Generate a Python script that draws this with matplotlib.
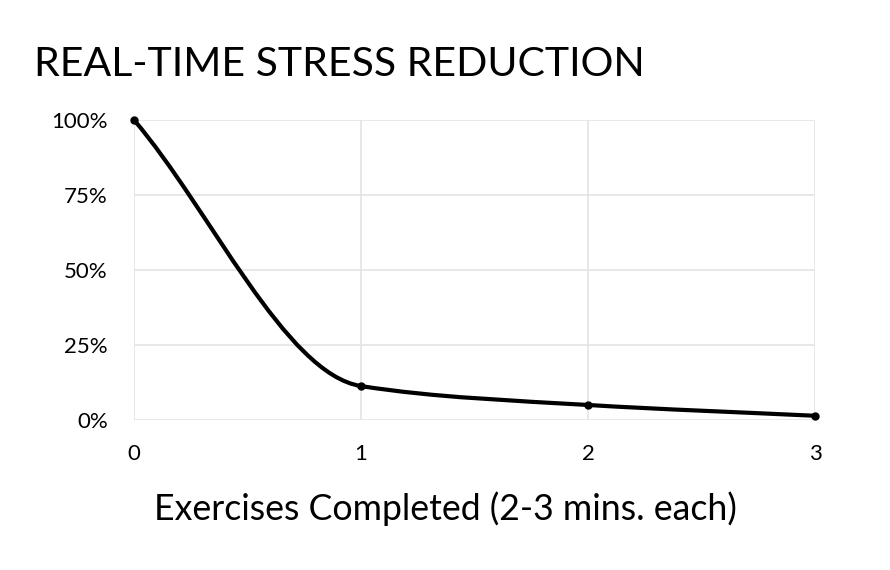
from matplotlib import pyplot as plt
from matplotlib.path import Path
from matplotlib.patches import PathPatch
from matplotlib.ticker import FuncFormatter
import numpy as np


exercises = [0, 1, 2, 3]
stress = [100, 11.3, 5, 1.4]
y_ticks = [0, 25, 50, 75, 100]

FONT = ["Lato", "DejaVu Sans"]


def smooth_path(xs, ys):
	# smoothed line like the spreadsheet one: hermite segments drawn as beziers,
	# chord tangents at the ends, harmonic-mean tangents inside (no overshoot)
	xs = np.asarray(xs, float)
	ys = np.asarray(ys, float)
	n = len(xs)
	h = np.diff(xs)
	d = np.diff(ys) / h
	m = np.zeros(n)
	m[0] = d[0]
	m[-1] = d[-1]
	for i in range(1, n - 1):
		if d[i - 1] * d[i] > 0:
			m[i] = 2 / (1 / d[i - 1] + 1 / d[i])
	verts = [(xs[0], ys[0])]
	codes = [Path.MOVETO]
	for i in range(n - 1):
		k = h[i] / 3
		verts += [(xs[i] + k, ys[i] + m[i] * k),
			(xs[i + 1] - k, ys[i + 1] - m[i + 1] * k),
			(xs[i + 1], ys[i + 1])]
		codes += [Path.CURVE4] * 3
	return Path(verts, codes)


fig = plt.figure(figsize=(8.9, 5.7), dpi=100)
ax = fig.add_axes([0.1506, 0.2632, 0.7651, 0.5263])

ax.set_xlim(0, 3)
ax.set_ylim(0, 100)
ax.add_patch(PathPatch(smooth_path(exercises, stress), facecolor="none",
	edgecolor="black", linewidth=3, capstyle="round", zorder=3))
ax.plot(exercises, stress, "o", color="black", markersize=5, zorder=4, clip_on=False)

ax.set_xticks(exercises)
ax.set_yticks(y_ticks)
ax.yaxis.set_major_formatter(FuncFormatter(lambda v, p: "%d%%" % v))
ax.grid(True, color="#e4e4e4", linewidth=1.2)
ax.set_axisbelow(True)
for s in ax.spines.values():
	s.set_visible(False)
ax.tick_params(length=0, labelsize=16)
ax.tick_params(axis="x", pad=17)
ax.tick_params(axis="y", pad=19)
for lab in ax.get_xticklabels() + ax.get_yticklabels():
	lab.set_family(FONT)

fig.text(0.5, 0.088, "Exercises Completed (2-3 mins. each)", fontsize=25.7, family=FONT,
	ha="center", va="baseline")
fig.text(0.038, 0.867, "REAL-TIME STRESS REDUCTION", fontsize=29.5, family=FONT,
	ha="left", va="baseline")

fig.savefig("out.png", dpi=100, facecolor="white")
